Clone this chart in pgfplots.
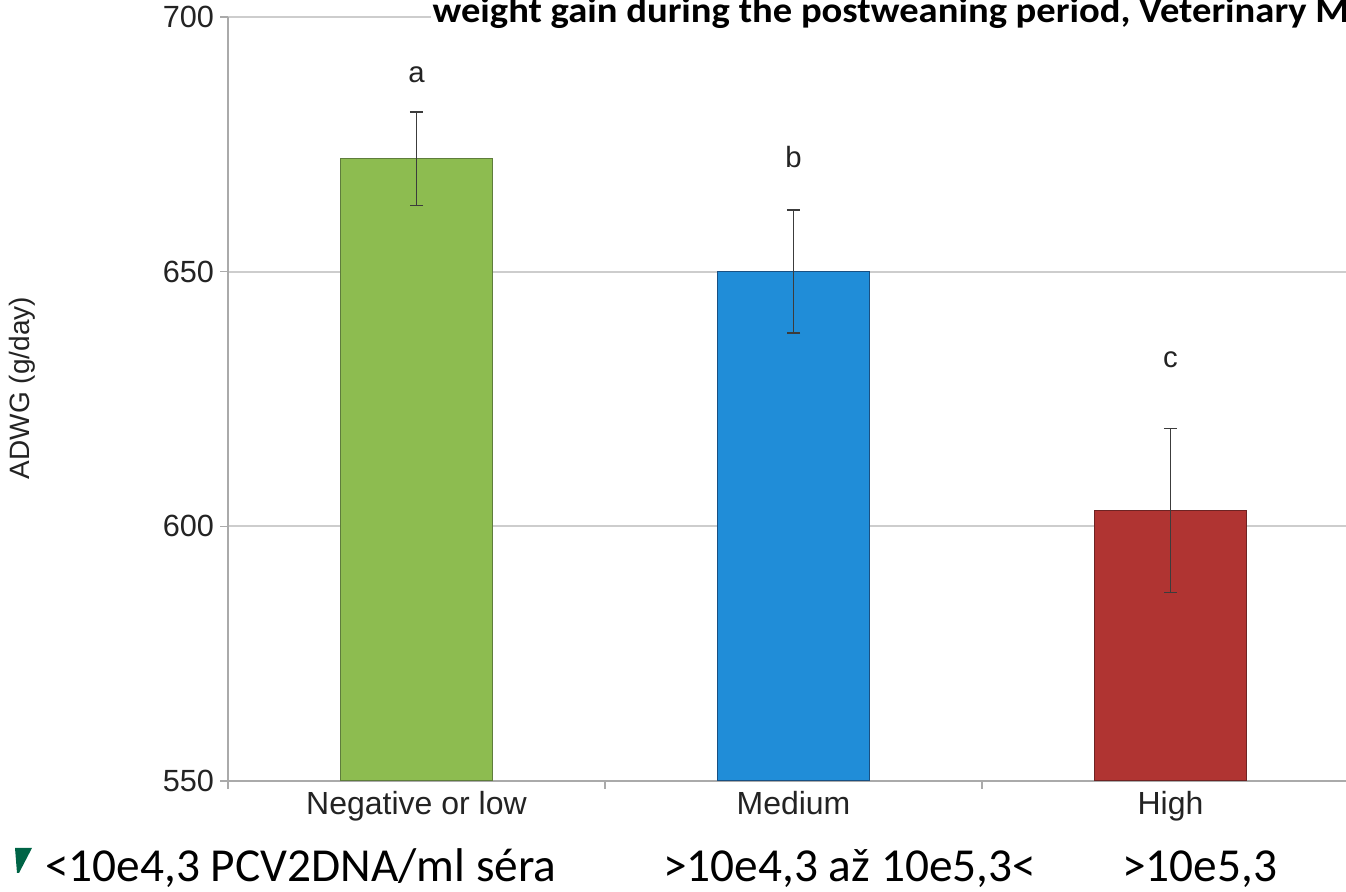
\documentclass[border=0pt]{standalone}
\usepackage{fontspec}
\setmainfont{Liberation Sans}
\newfontfamily\carlito{Carlito}
\newfontfamily\titlefont[FakeStretch=1.08]{Carlito}
\usepackage{pgfplots}
\pgfplotsset{compat=1.18}
\definecolor{barG}{RGB}{141,188,80}
\definecolor{barGd}{RGB}{95,125,60}
\definecolor{barB}{RGB}{32,141,216}
\definecolor{barBd}{RGB}{25,80,130}
\definecolor{barR}{RGB}{176,52,50}
\definecolor{barRd}{RGB}{110,35,35}
\definecolor{txt}{RGB}{35,35,35}
\definecolor{errc}{RGB}{60,60,60}
\definecolor{gridc}{RGB}{205,205,205}
\definecolor{axc}{RGB}{170,170,170}
\definecolor{bullet}{RGB}{0,100,70}
\begin{document}
\begin{tikzpicture}[x=0.75pt,y=0.75pt]
\useasboundingbox (0,0) rectangle (1346,892);
\clip (0,0) rectangle (1346,892);
\begin{axis}[
  at={(171pt,83.25pt)}, anchor=south west,
  scale only axis, width=838.5pt, height=573pt,
  xmin=-0.5, xmax=2.4655, ymin=550, ymax=700,
  axis lines*=left,
  axis line style={axc, line width=1.4pt},
  ytick={550,600,650,700},
  ymajorgrids,
  grid style={gridc, line width=1.3pt},
  tick align=outside,
  major tick length=6pt,
  tick style={axc, line width=1.2pt},
  /pgf/number format/assume math mode=true,
  yticklabel style={font=\fontsize{23}{23}\selectfont, text=txt, xshift=-1pt},
  xtick={-0.5,0.5,1.5},
  xticklabels={},
  extra x ticks={0,1,2},
  extra x tick labels={Negative or low, Medium, High},
  extra x tick style={major tick length=0pt, xticklabel style={font=\fontsize{24}{24}\selectfont, text=txt, yshift=-4pt}},
  clip=true,
  error bars/error mark=-,
]
\addplot[ybar, bar width=114pt, bar shift=0pt, fill=barG, draw=barGd, line width=0.8pt,
  error bars/.cd, y dir=both, y explicit,
  error bar style={errc, line width=1.2pt},
  error mark options={rotate=90, errc, line width=1.2pt, mark size=5pt}]
  coordinates {(0,672.2) +- (0,9.2)};
\addplot[ybar, bar width=114pt, bar shift=0pt, fill=barB, draw=barBd, line width=0.8pt,
  error bars/.cd, y dir=both, y explicit,
  error bar style={errc, line width=1.2pt},
  error mark options={rotate=90, errc, line width=1.2pt, mark size=5pt}]
  coordinates {(1,650.0) +- (0,12.1)};
\addplot[ybar, bar width=114pt, bar shift=0pt, fill=barR, draw=barRd, line width=0.8pt,
  error bars/.cd, y dir=both, y explicit,
  error bar style={errc, line width=1.2pt},
  error mark options={rotate=90, errc, line width=1.2pt, mark size=5pt}]
  coordinates {(2,603.1) +- (0,16.1)};
\node[font=\fontsize{22}{22}\selectfont, text=txt] at (axis cs:0,688.6) {a};
\node[font=\fontsize{22}{22}\selectfont, text=txt] at (axis cs:1,672.5) {b};
\node[font=\fontsize{22}{22}\selectfont, text=txt] at (axis cs:2,632.7) {c};
\end{axis}
\node[rotate=90, font=\fontsize{21}{21}\selectfont, text=txt] at (22,504) {ADWG (g/day)};
\node[anchor=base west, inner sep=1pt, fill=white, font=\titlefont\bfseries\fontsize{26.8}{26.8}\selectfont] at (431,869) {weight gain during the postweaning period, Veterinary M};
\fill[bullet] (15,44) -- (32,44) -- (19,19) -- (17,19) -- cycle;
\begin{scope}[font=\carlito\fontsize{35.5}{35.5}\selectfont]
\node[anchor=base west, inner sep=0] at (45,10) {<10e4,3 PCV2DNA/ml séra};
\node[anchor=base west, inner sep=0] at (663,10) {>10e4,3 až 10e5,3<};
\node[anchor=base west, inner sep=0] at (1122,10) {>10e5,3};
\end{scope}
\end{tikzpicture}
\end{document}
